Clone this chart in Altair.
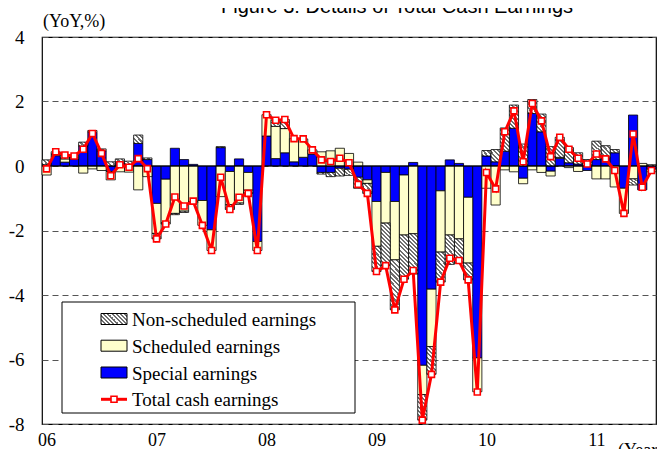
import math
import altair as alt
import pandas as pd

# ---------------- data (YoY, %) Jan 2006 .. Jul 2011 ----------------
months = [f"{y}-{m:02d}" for y in range(2006, 2012) for m in range(1, 13)][:67]

total = [-0.09, 0.44, 0.34, 0.31, 0.52, 1.01, 0.39, -0.30, 0.04, -0.04, 0.23, -0.08,
         -2.26, -1.80, -0.96, -1.24, -1.09, -1.84, -2.62, -0.35, -1.35, -0.97, -0.85, -2.62,
         1.59, 1.42, 1.44, 0.85, 0.84, 0.50, 0.19, 0.14, 0.24, 0.10, -0.57, -0.85,
         -3.27, -3.09, -4.46, -3.51, -3.24, -7.88, -6.46, -3.60, -2.86, -2.93, -3.53, -7.01,
         -0.20, -0.71, 1.06, 1.71, 0.13, 1.94, 1.40, 0.29, 0.89, 0.52, 0.24, 0.06,
         0.37, 0.22, -0.14, -1.47, 0.99, -0.66, -0.14]

special = [0.04, 0.32, 0.12, 0.22, 0.62, 1.05, 0.47, -0.17, 0.10, 0.05, 0.70, 0.20,
           -1.16, -0.41, 0.55, 0.20, 0.05, -1.07, -1.98, 0.57, -0.17, 0.22, -0.20, -2.34,
           0.93, 0.23, 0.41, 0.13, 0.27, 0.37, -0.20, -0.20, -0.07, -0.10, -0.35, -0.43,
           -1.10, -0.20, -1.10, -0.28, 0.11, -6.18, -3.82, -0.77, 0.19, 0.08, -0.97, -5.95,
           0.31, 0.13, 0.46, 1.17, -0.38, 1.63, 1.06, -0.16, 0.24, 0.10, 0.06, -0.14,
           0.20, 0.24, 0.41, -0.69, 1.58, -0.74, -0.10]

scheduled = [-0.28, 0.04, 0.10, 0.04, -0.22, -0.09, -0.14, -0.26, -0.18, -0.19, -0.74, -0.33,
             -0.93, -1.35, -1.47, -1.40, -1.10, -0.77, -0.64, -0.95, -1.03, -1.15, -0.55, -0.28,
             0.66, 1.00, 0.75, 0.72, 0.57, 0.13, 0.44, 0.47, 0.55, 0.39, 0.12, -0.11,
             -1.39, -1.57, -1.81, -1.86, -2.10, -0.91, -1.78, -1.90, -2.14, -2.26, -2.04, -1.05,
             -0.69, -1.21, -0.12, -0.18, -0.17, -0.12, -0.20, -0.15, 0.03, -0.05, -0.17, 0.00,
             -0.40, -0.40, -0.65, -0.78, -0.40, 0.08, -0.08]

nonscheduled = [0.15, 0.08, 0.12, 0.05, 0.12, 0.05, 0.06, 0.13, 0.12, 0.10, 0.26, 0.05,
                -0.17, -0.04, -0.04, -0.04, -0.04, 0.00, 0.00, 0.03, -0.15, -0.04, -0.10, 0.00,
                0.00, 0.19, 0.28, 0.00, 0.00, 0.00, -0.05, -0.13, -0.24, -0.19, -0.34, -0.31,
                -0.78, -1.32, -1.55, -1.37, -1.25, -0.79, -0.86, -0.93, -0.91, -0.75, -0.52, 0.00,
                0.17, 0.38, 0.72, 0.72, 0.68, 0.43, 0.55, 0.60, 0.62, 0.47, 0.35, 0.20,
                0.57, 0.39, 0.10, 0.00, -0.19, 0.00, 0.04]

year_labels = ["06", "07", "08", "09", "10", "11"]
legend_labels = ["Non-scheduled earnings", "Scheduled earnings", "Special earnings", "Total cash earnings"]
title_text = "Figure 3: Details of Total Cash Earnings"
y_unit = "(YoY,%)"
x_unit = "(Year)"

# ---------------- layout ----------------
W, H = 614, 387
Y_DOM = [-8, 4]
BAR_W = W / len(months)
PX_PER_UNIT = H / (Y_DOM[1] - Y_DOM[0])
SERIF = "Liberation Serif"
BLUE, YELLOW, RED = "#0000ff", "#ffffcc", "#ff0000"


def hatch(w, h, period=3.0, dark="#707070", light="#ffffff"):
    """Diagonal '\\' stripes via a bounding-box linear gradient."""
    h = max(h, 1.0)
    k = (w + h) / (w * w + h * h)
    n = max(1, round((w + h) / math.sqrt(2) / period))
    stops = []
    for j in range(n):
        a, b, c = j / n, (j + 0.5) / n, (j + 1) / n
        stops += [alt.GradientStop(color=dark, offset=a), alt.GradientStop(color=dark, offset=b),
                  alt.GradientStop(color=light, offset=b), alt.GradientStop(color=light, offset=c)]
    return alt.LinearGradient(gradient="linear", stops=stops, x1=0, y1=1, x2=w * k, y2=1 - h * k)


# stacked segments (special nearest zero, then scheduled, then non-scheduled)
rows = []
for i, m in enumerate(months):
    pos = neg = 0.0
    for name, v in (("Special", special[i]), ("Scheduled", scheduled[i]), ("Non-scheduled", nonscheduled[i])):
        if v == 0:
            continue
        if v > 0:
            y0, y1 = pos, pos + v
            pos = y1
        else:
            y0, y1 = neg, neg + v
            neg = y1
        rows.append(dict(idx=i, month=m, series=name, value=v, lo=i - 0.5, hi=i + 0.5, y0=y0, y1=y1,
                         bucket=round(abs(v) * PX_PER_UNIT / 4)))
bars = pd.DataFrame(rows)
line_df = pd.DataFrame({"idx": list(range(len(months))), "month": months, "total": total})

x_scale = alt.Scale(domain=[-0.5, len(months) - 0.5], nice=False, zero=False)
y_scale = alt.Scale(domain=Y_DOM, nice=False, zero=False)

label_js = "[" + ",".join(f"'{s}'" for s in year_labels) + "][round(datum.value / 12)]"
x_axis = alt.Axis(values=[12 * k for k in range(len(year_labels))], labelExpr=label_js, title=None,
                  grid=False, ticks=False, domain=False, labelFont=SERIF, labelFontSize=18,
                  labelColor="black", labelPadding=7, labelFlush=False, labelOverlap=False)
y_axis = alt.Axis(values=list(range(Y_DOM[0], Y_DOM[1] + 1, 2)), labelExpr="'' + datum.value", title=None,
                  ticks=False, domain=False, labelFont=SERIF, labelFontSize=19, labelColor="black",
                  labelPadding=18, grid=True, gridDash=[6, 4], gridColor="#555555", gridWidth=1)


def X(field):
    return alt.X(field, scale=x_scale, axis=x_axis)


def Y(field):
    return alt.Y(field, scale=y_scale, axis=y_axis)


def seg_layer(df, fill):
    return alt.Chart(df).mark_bar(fill=fill, stroke="black", strokeWidth=0.8).encode(
        x=X("lo:Q"), x2="hi:Q", y=Y("y0:Q"), y2="y1:Q")


layers = [seg_layer(bars[bars.series == "Special"], BLUE),
          seg_layer(bars[bars.series == "Scheduled"], YELLOW)]
ns = bars[bars.series == "Non-scheduled"]
for b in sorted(ns.bucket.unique()):
    layers.append(seg_layer(ns[ns.bucket == b], hatch(BAR_W, b * 4)))

zero = alt.Chart(pd.DataFrame({"y": [0]})).mark_rule(color="black", strokeWidth=1).encode(y=Y("y:Q"))
line = alt.Chart(line_df).mark_line(color=RED, strokeWidth=3).encode(x=X("idx:Q"), y=Y("total:Q"))
pts = alt.Chart(line_df).mark_point(shape="square", size=36, fill="white", fillOpacity=1, stroke=RED,
                                    strokeWidth=1.6, opacity=1).encode(x=X("idx:Q"), y=Y("total:Q"))
layers += [zero, line, pts]

one = pd.DataFrame({"k": [0]})


def txt(s, x, y, size=19, font=SERIF, align="left", baseline="middle"):
    return alt.Chart(one).mark_text(text=s, font=font, fontSize=size, color="black", align=align,
                                    baseline=baseline).encode(x=alt.value(x), y=alt.value(y))


# legend (drawn by hand, inside plot)
LX0, LX1, LY0, LY1 = 20, 313, 265, 376
layers.append(alt.Chart(one).mark_rect(fill="white", stroke="black", strokeWidth=1).encode(
    x=alt.value(LX0), x2=alt.value(LX1), y=alt.value(LY0), y2=alt.value(LY1)))
row_y = [282, 308.7, 335.5, 362.3]
sw_x0, sw_x1, sw_h = 59, 85, 11
sw_fills = [hatch(sw_x1 - sw_x0, sw_h), YELLOW, BLUE]
for r in range(3):
    layers.append(alt.Chart(one).mark_rect(fill=sw_fills[r], stroke="black", strokeWidth=1).encode(
        x=alt.value(sw_x0), x2=alt.value(sw_x1), y=alt.value(row_y[r] - sw_h / 2),
        y2=alt.value(row_y[r] + sw_h / 2)))
layers.append(alt.Chart(one).mark_rule(color=RED, strokeWidth=3).encode(
    x=alt.value(sw_x0), x2=alt.value(sw_x1), y=alt.value(row_y[3])))
layers.append(alt.Chart(one).mark_point(shape="square", size=36, fill="white", fillOpacity=1, stroke=RED,
                                        strokeWidth=1.6, opacity=1).encode(
    x=alt.value((sw_x0 + sw_x1) / 2), y=alt.value(row_y[3])))
for r, lab in enumerate(legend_labels):
    layers.append(txt(lab, 90, row_y[r] + 1))

# texts outside plot
layers.append(txt(y_unit, 1, -15, size=18))
layers.append(txt(x_unit, 576, 405, size=18, baseline="top"))
layers.append(txt(title_text, 355, -24, size=20, font="Liberation Sans", align="center", baseline="alphabetic"))

chart = alt.layer(*layers).properties(
    width=W, height=H,
    background="white",
    autosize=alt.AutoSizeParams(type="none"),
    padding={"left": 34, "top": 29, "right": 1, "bottom": 25},
).configure_view(stroke="black", strokeWidth=1.2)

chart.save("out.html", embed_options={"renderer": "svg", "actions": False})
